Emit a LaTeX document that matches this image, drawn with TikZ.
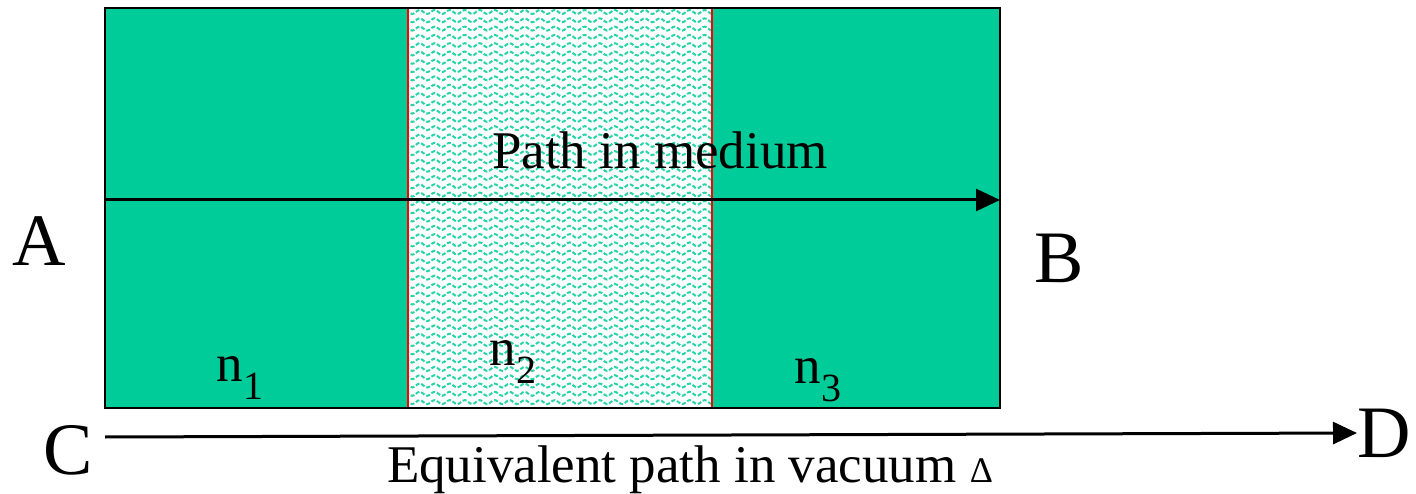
\documentclass[tikz,border=0pt]{standalone}
\usepackage{fontspec}
\setmainfont{Liberation Serif}
\usetikzlibrary{arrows.meta,decorations.pathmorphing}
\definecolor{medium}{RGB}{0,204,153}
\tikzset{
  slab/.style={draw=black,line width=1.2pt,fill=medium},
  wave/.style={draw=medium!85,line width=2pt,dash pattern=on 4pt off 2pt,
    decorate,decoration={snake,amplitude=2pt,segment length=15pt}},
  ray/.style={line width=3pt,-{Triangle[length=24pt,width=22pt]}},
  lbl/.style={inner sep=0pt,font=\fontsize{53}{60}\selectfont},
  pt/.style={inner sep=0pt,font=\fontsize{74}{80}\selectfont},
}
\begin{document}
\begin{tikzpicture}[x=1pt,y=1pt,yscale=-1]
\useasboundingbox (0,0) rectangle (1416,494);

%Shape: left and right slabs
\draw [slab] (105,8) rectangle (408,408);
\draw [slab] (712,8) rectangle (1000,408);
%Shape: middle slab, wavy fill
\begin{scope}
\clip (408,8) rectangle (712,408);
\fill [white] (408,8) rectangle (712,408);
\foreach \y in {12,20.3,...,412}
  \draw [wave] (400,\y) -- (720,\y);
\end{scope}
\draw [red,line width=1.5pt] (408,8) rectangle (712,408);
\draw [line width=1.2pt] (105,8) -- (1000,8) (105,408) -- (1000,408);

% Named ends
\coordinate (a) at (105,200);
\coordinate (b) at (1000,200);
\coordinate (c) at (105,437);

% Text Node
\node (A) [pt] at (39,241) {A};
\node (B) [pt] at (1059,258) {B};
\node (C) [pt] at (68,450) {C};
\node (D) [pt,anchor=west] at (1357,433) {D};
\node (path) [lbl] at (660,150) {Path in medium};
\node (vac) [lbl] at (690,470) {Equivalent path in vacuum {\fontsize{36}{40}\selectfont Δ}};
\node (n1) [lbl] at (240,378) {n\textsubscript{\fontsize{40}{44}\selectfont 1}};
\node (n2) [lbl] at (513,362) {n\textsubscript{\fontsize{40}{44}\selectfont 2}};
\node (n3) [lbl] at (818,380) {n\textsubscript{\fontsize{40}{44}\selectfont 3}};

%Arrows
\draw [ray] (a) -- (b);
\draw [ray] (c) -- (D.west);

\end{tikzpicture}
\end{document}
